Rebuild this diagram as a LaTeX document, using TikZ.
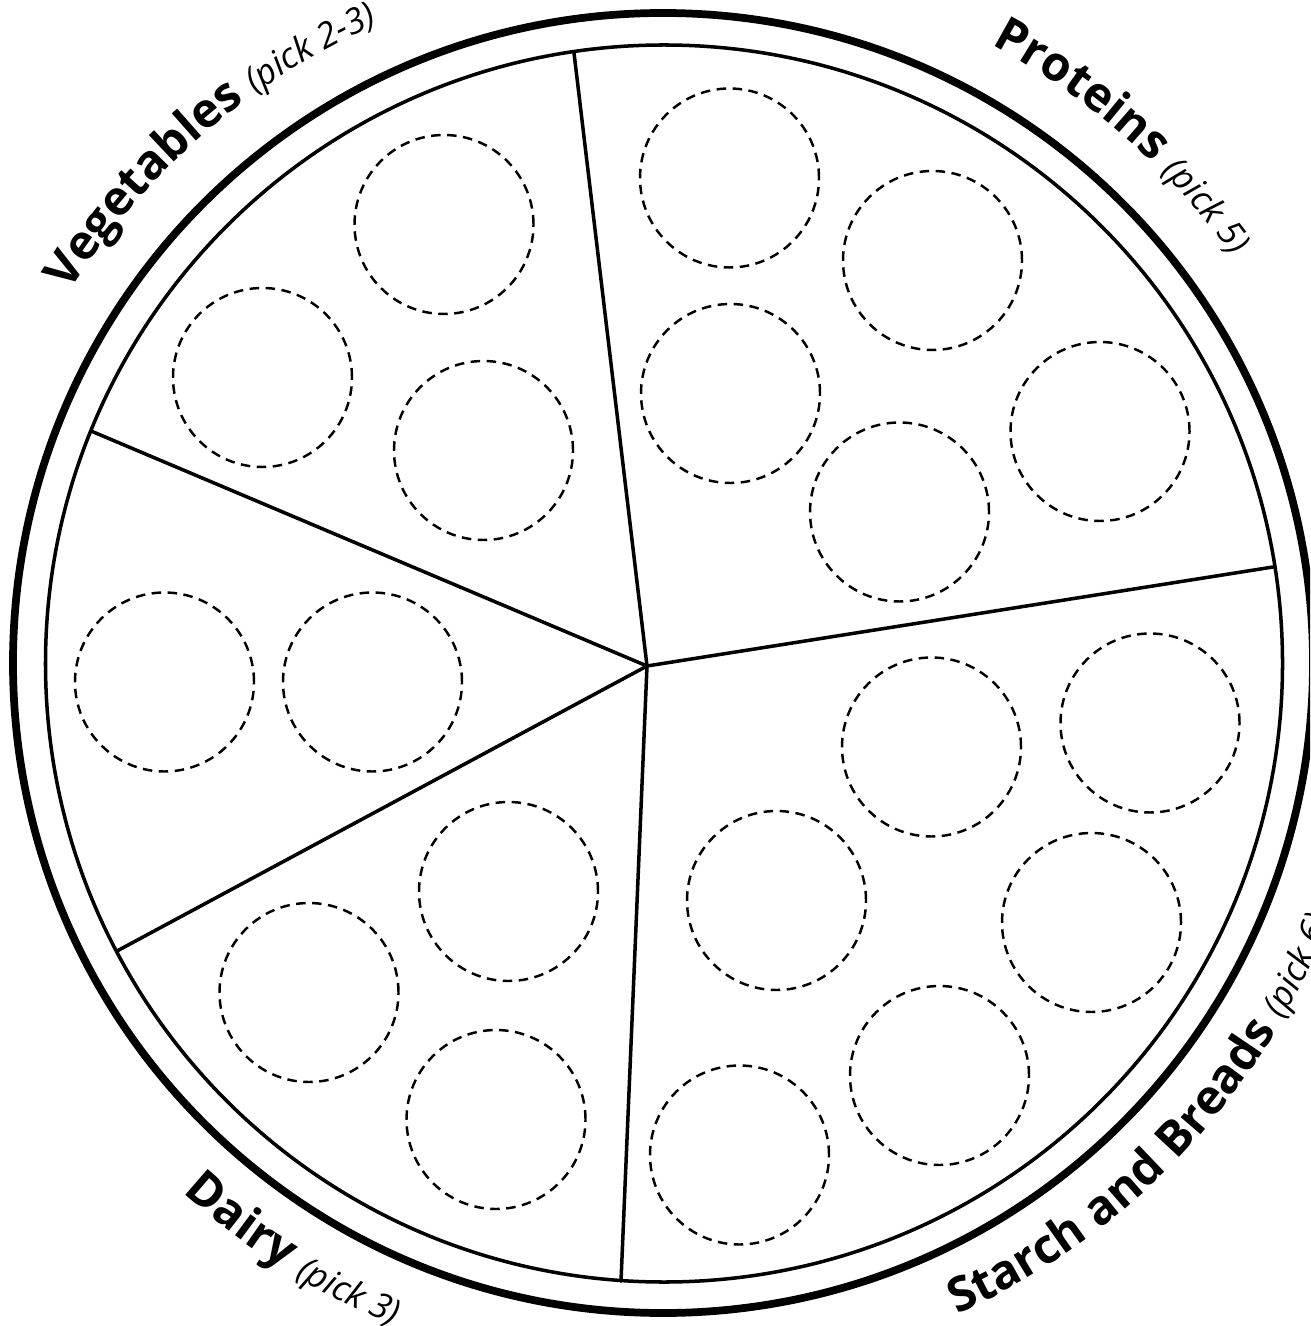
\documentclass[tikz,border=0pt]{standalone}
\usepackage{fontspec}
\setmainfont{Open Sans}
\usetikzlibrary{decorations.text}
\begin{document}
\begin{tikzpicture}[
  rim/.style={line width=2.2pt},
  plate/.style={line width=1pt},
  spoke/.style={line width=1pt},
  slot/.style={circle, draw, inner sep=0pt, minimum size=1.79cm, line width=0.7pt, dash pattern=on 0.095cm off 0.065cm},
  arclabel/.style={decorate, decoration={text along path, text={#1}}},
]
\clip (0,0) rectangle (13.1,-13.26);
\fill[white] (0,0) rectangle (13.1,-13.26);
\coordinate (O) at (6.63,-6.63);
\coordinate (I) at (6.64,-6.635);
\draw[rim] (O) circle (6.50);
\draw[plate] (I) circle (6.185);
% spokes
\coordinate (J) at (6.47,-6.66);
\coordinate (ST) at (5.74,-0.53);
\coordinate (SR) at (12.73,-5.67);
\coordinate (SB) at (6.21,-12.81);
\coordinate (SLL) at (1.17,-9.51);
\coordinate (SLU) at (0.91,-4.31);
\foreach \e in {ST,SR,SB,SLL,SLU} \draw[spoke, line cap=round] (J) -- (\e);
% slots
\node[slot] (v1) at (4.44,-2.245) {};
\node[slot] (v2) at (2.625,-3.775) {};
\node[slot] (v3) at (4.835,-4.505) {};
\node[slot] (p1) at (7.295,-1.78) {};
\node[slot] (p2) at (9.325,-2.605) {};
\node[slot] (p3) at (7.305,-3.935) {};
\node[slot] (p4) at (11.00,-4.315) {};
\node[slot] (p5) at (8.995,-5.12) {};
\node[slot] (l1) at (1.645,-6.82) {};
\node[slot] (l2) at (3.725,-6.82) {};
\node[slot] (d1) at (5.085,-8.915) {};
\node[slot] (d2) at (3.09,-9.925) {};
\node[slot] (d3) at (4.96,-11.195) {};
\node[slot] (s1) at (9.315,-7.47) {};
\node[slot] (s2) at (11.50,-7.23) {};
\node[slot] (s3) at (7.765,-9.005) {};
\node[slot] (s4) at (10.915,-9.225) {};
\node[slot] (s5) at (9.395,-10.755) {};
\node[slot] (s6) at (7.395,-11.55) {};
% labels
\path[arclabel={|\bfseries\fontsize{13.6}{14}\selectfont|Vegetables |\normalfont\itshape\fontsize{10}{10}\selectfont|(pick 2-3)}]
  (O) ++(148:7.0) arc[start angle=148, end angle=95, radius=7.0];
\path[arclabel={|\bfseries\fontsize{13.6}{14}\selectfont|Proteins |\normalfont\itshape\fontsize{10}{10}\selectfont|(pick 5)}]
  (O) ++(62:7.0) arc[start angle=62, end angle=15, radius=7.0];
\path[arclabel={|\bfseries\fontsize{13.6}{14}\selectfont|Dairy |\normalfont\itshape\fontsize{10}{10}\selectfont|(pick 3)}]
  (O) ++(-132.2:7.15) arc[start angle=-132.2, end angle=-90, radius=7.15];
\path[arclabel={|\bfseries\fontsize{13.6}{14}\selectfont|Starch and Breads |\normalfont\itshape\fontsize{10}{10}\selectfont|(pick 6)}]
  (O) ++(-65.7:7.15) arc[start angle=-65.7, end angle=5, radius=7.15];
\end{tikzpicture}
\end{document}
